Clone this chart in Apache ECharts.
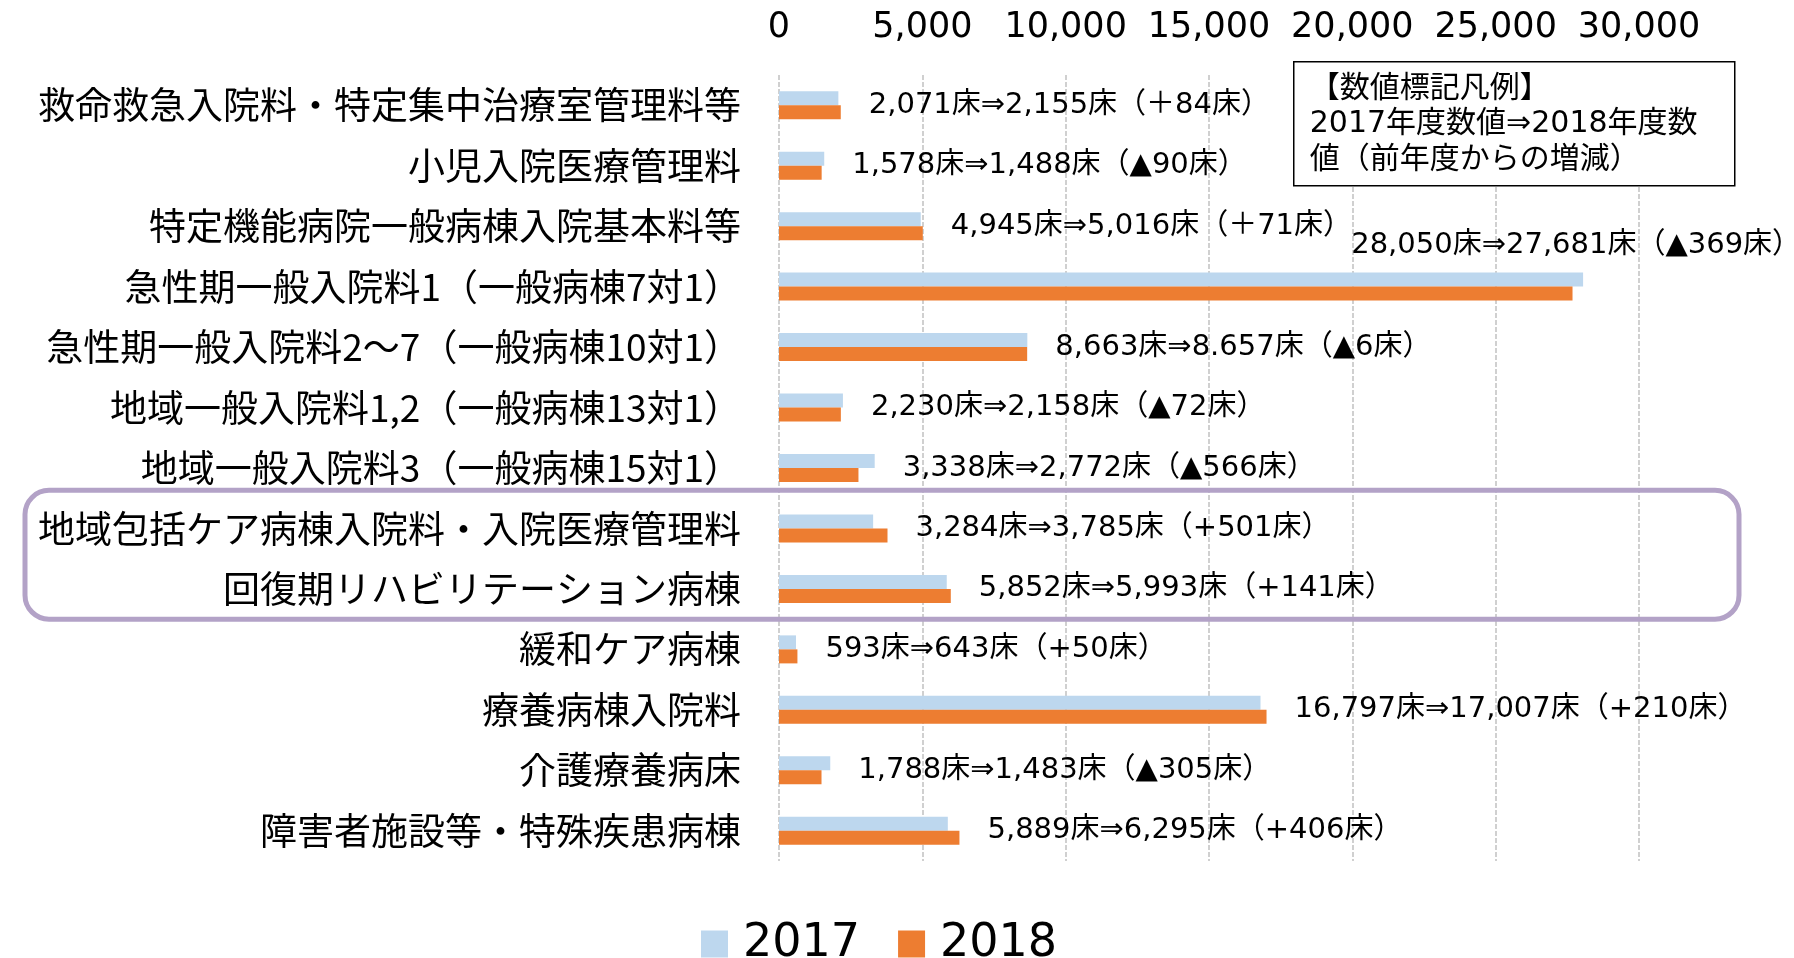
<!DOCTYPE html>
<html>
<head>
<meta charset="utf-8">
<script src="https://cdn.jsdelivr.net/npm/echarts@6/dist/echarts.min.js"></script>
<style>
  html, body { margin: 0; padding: 0; background: #fff; }
  #chart { width: 1794px; height: 958px; }
</style>
</head>
<body>
<div id="chart"></div>
<script>
  // 病床区分
  const categories = [
    '救命救急入院料・特定集中治療室管理料等',
    '小児入院医療管理料',
    '特定機能病院一般病棟入院基本料等',
    '急性期一般入院料1（一般病棟7対1）',
    '急性期一般入院料2～7（一般病棟10対1）',
    '地域一般入院料1,2（一般病棟13対1）',
    '地域一般入院料3（一般病棟15対1）',
    '地域包括ケア病棟入院料・入院医療管理料',
    '回復期リハビリテーション病棟',
    '緩和ケア病棟',
    '療養病棟入院料',
    '介護療養病床',
    '障害者施設等・特殊疾患病棟'
  ]
  const beds2017 = [2071, 1578, 4945, 28050, 8663, 2230, 3338, 3284, 5852, 593, 16797, 1788, 5889]
  const beds2018 = [2155, 1488, 5016, 27681, 8657, 2158, 2772, 3785, 5993, 643, 17007, 1483, 6295]
  // 数値標記（2017⇒2018（増減））
  const changeLabels = [
    '2,071床⇒2,155床（＋84床）',
    '1,578床⇒1,488床（▲90床）',
    '4,945床⇒5,016床（＋71床）',
    '28,050床⇒27,681床（▲369床）',
    '8,663床⇒8.657床（▲6床）',
    '2,230床⇒2,158床（▲72床）',
    '3,338床⇒2,772床（▲566床）',
    '3,284床⇒3,785床（+501床）',
    '5,852床⇒5,993床（+141床）',
    '593床⇒643床（+50床）',
    '16,797床⇒17,007床（+210床）',
    '1,788床⇒1,483床（▲305床）',
    '5,889床⇒6,295床（+406床）'
  ]
  const legendNames = ['2017', '2018']
  const noteLines = ['【数値標記凡例】', '2017年度数値⇒2018年度数', '値（前年度からの増減）']

  const FONT = "'DejaVu Sans', 'Noto Sans CJK JP', sans-serif"
  const labelStyle = {fontSize: 29, color: '#000', fontFamily: FONT}

  // ラベルは長い方のバーに付ける
  function buildData(values, other, isFirst) {
    return values.map((v, i) => {
      let mine = isFirst ? v >= other[i] : v > other[i]
      let item = {value: v}
      if (!mine) return item
      if (i === 3) {
        // 一番長いバーはバーの右上に
        item.label = Object.assign({
          show: true,
          position: ['100%', '50%'],
          align: 'right',
          verticalAlign: 'middle',
          offset: [218, -34],
          formatter: changeLabels[i]
        }, labelStyle)
      } else {
        item.label = Object.assign({
          show: true,
          position: 'right',
          distance: 28,
          offset: [0, isFirst ? 7 : -7],
          formatter: changeLabels[i]
        }, labelStyle)
      }
      return item
    })
  }

  const chart = echarts.init(document.getElementById('chart'))
  const option = {
    animation: false,
    textStyle: {fontFamily: FONT},
    grid: {left: 779, right: 155, top: 75, bottom: 97},
    legend: {
      data: legendNames,
      left: 696,
      top: 916,
      itemWidth: 27,
      itemHeight: 27,
      itemGap: 38,
      icon: 'rect',
      textStyle: {fontSize: 46, color: '#000', fontFamily: FONT, padding: [0, 0, 0, 10]}
    },
    xAxis: {
      type: 'value',
      position: 'top',
      min: 0,
      max: 30000,
      interval: 5000,
      axisLine: {show: false},
      axisTick: {show: false},
      axisLabel: {
        fontSize: 35,
        color: '#000',
        fontFamily: FONT,
        margin: 30,
        formatter: v => v.toLocaleString('en-US')
      },
      splitLine: {lineStyle: {color: '#d0d0d0', width: 2, type: [5, 2]}}
    },
    yAxis: {
      type: 'category',
      inverse: true,
      data: categories,
      axisLine: {show: false},
      axisTick: {show: false},
      axisLabel: {fontSize: 37, color: '#000', fontFamily: "'Noto Sans CJK JP', sans-serif", margin: 38}
    },
    series: [
      {
        name: legendNames[0],
        type: 'bar',
        barWidth: 14,
        barGap: '0%',
        itemStyle: {color: '#BDD7EE'},
        data: buildData(beds2017, beds2018, true)
      },
      {
        name: legendNames[1],
        type: 'bar',
        barWidth: 14,
        itemStyle: {color: '#ED7D31'},
        data: buildData(beds2018, beds2017, false)
      }
    ]
  }
  chart.setOption(option)

  // 紫の枠（地域包括ケア・回復期リハ）と数値標記凡例の枠
  let c7 = chart.convertToPixel({yAxisIndex: 0}, categories[7])
  let c8 = chart.convertToPixel({yAxisIndex: 0}, categories[8])
  let band = c8 - c7
  chart.setOption({
    graphic: [
      {
        type: 'rect',
        z: 100,
        shape: {x: 25, y: c7 - band * 0.63, width: 1714, height: band * 1.13 + band, r: 24},
        style: {fill: 'none', stroke: '#B3A2C7', lineWidth: 5}
      },
      {
        type: 'group',
        z: 100,
        left: 1293,
        top: 61,
        children: [
          {
            type: 'rect',
            shape: {x: 0, y: 0, width: 441, height: 124},
            style: {fill: '#fff', stroke: '#000', lineWidth: 1.5}
          }
        ].concat(noteLines.map((t, i) => ({
          type: 'text',
          x: 16,
          y: 27 + i * 35.5,
          style: {text: t, fontSize: 30, fontFamily: FONT, fill: '#000', verticalAlign: 'middle'}
        })))
      }
    ]
  })
</script>
</body>
</html>
